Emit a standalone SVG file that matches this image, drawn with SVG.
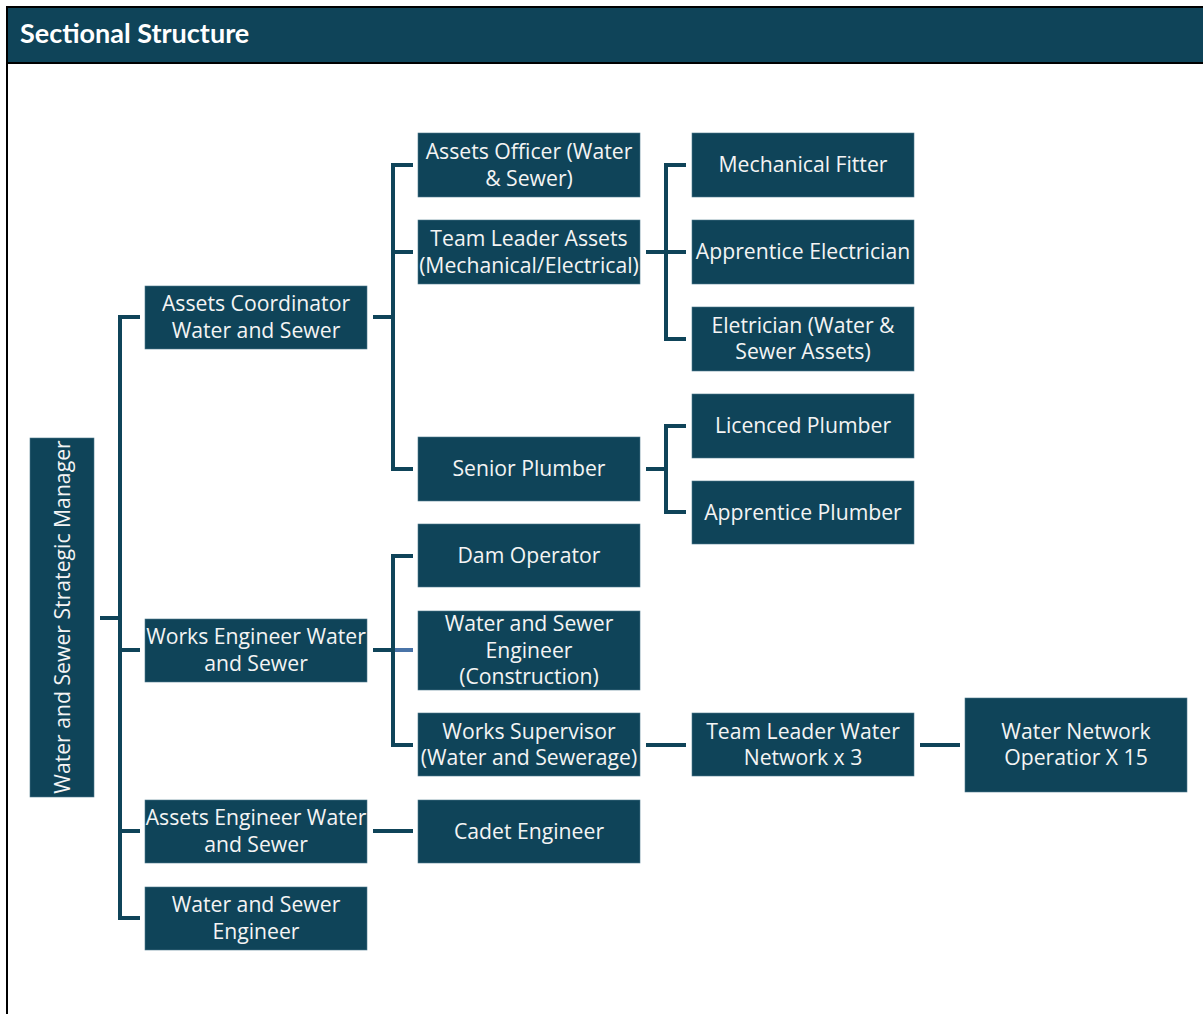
<svg xmlns="http://www.w3.org/2000/svg" width="1203" height="1014" viewBox="0 0 1203 1014">
<style>
.box{fill:#0f4459;stroke:#4d7a8c;stroke-width:0.6}
.t{font-family:"Open Sans","Noto Sans",sans-serif;font-size:21.2px;fill:#f4f4f4;text-anchor:middle}
.c{fill:none;stroke:#0f4459;stroke-width:4;stroke-linejoin:miter;stroke-linecap:butt}
</style>
<rect x="0" y="0" width="1203" height="1014" fill="#ffffff"/>
<g id="frame">
<line x1="7" y1="63" x2="7" y2="1014" stroke="#000" stroke-width="2"/>
<rect x="7" y="7" width="1200" height="56" fill="#0f4459" stroke="#000" stroke-width="2"/>
<text x="20" y="43" font-family="Lato,'Open Sans',sans-serif" font-weight="bold" font-size="27" fill="#ffffff">Sectional Structure</text>
</g>
<g id="connectors">
<path class="c" d="M100 618H120M140 317H120V918H140M120 650H140M120 831H140"/>
<path class="c" d="M373 317H393M413 165H393V469H413M393 252H413"/>
<path class="c" d="M646 252H666M686 165H666V339H686M666 252H686"/>
<path class="c" d="M646 469H666M686 426H666V512H686"/>
<path class="c" d="M373 650H393M413 556H393V745H413"/>
<path d="M395 650H413" fill="none" stroke="#4a74a8" stroke-width="4"/>
<path class="c" d="M646 745H686M920 745H960M373 831H413"/>
</g>
<g id="n-root"><rect class="box" x="30" y="438" width="64" height="359"/><text class="t" transform="translate(70,617) rotate(-90)">Water and Sewer Strategic Manager</text></g>
<g id="n-assets-coord"><rect class="box" x="145" y="286" width="222" height="63"/><text class="t" x="256" y="311">Assets Coordinator</text><text class="t" x="256" y="338">Water and Sewer</text></g>
<g id="n-works-eng"><rect class="box" x="145" y="619" width="222" height="63"/><text class="t" x="256" y="644">Works Engineer Water</text><text class="t" x="256" y="671">and Sewer</text></g>
<g id="n-assets-eng"><rect class="box" x="145" y="800" width="222" height="63"/><text class="t" x="256" y="825">Assets Engineer Water</text><text class="t" x="256" y="852">and Sewer</text></g>
<g id="n-ws-eng"><rect class="box" x="145" y="887" width="222" height="63"/><text class="t" x="256" y="912">Water and Sewer</text><text class="t" x="256" y="939">Engineer</text></g>
<g id="n-assets-officer"><rect class="box" x="418" y="133" width="222" height="64"/><text class="t" x="529" y="159">Assets Officer (Water</text><text class="t" x="529" y="186">&amp; Sewer)</text></g>
<g id="n-tl-assets"><rect class="box" x="418" y="220" width="222" height="64"/><text class="t" x="529" y="246">Team Leader Assets</text><text class="t" x="529" y="273">(Mechanical/Electrical)</text></g>
<g id="n-senior-plumber"><rect class="box" x="418" y="437" width="222" height="64"/><text class="t" x="529" y="476">Senior Plumber</text></g>
<g id="n-dam"><rect class="box" x="418" y="524" width="222" height="63"/><text class="t" x="529" y="563">Dam Operator</text></g>
<g id="n-ws-eng-con"><rect class="box" x="418" y="611" width="222" height="79"/><text class="t" x="529" y="631">Water and Sewer</text><text class="t" x="529" y="658">Engineer</text><text class="t" x="529" y="684">(Construction)</text></g>
<g id="n-works-sup"><rect class="box" x="418" y="713" width="222" height="63"/><text class="t" x="529" y="739">Works Supervisor</text><text class="t" x="529" y="765">(Water and Sewerage)</text></g>
<g id="n-cadet"><rect class="box" x="418" y="800" width="222" height="63"/><text class="t" x="529" y="839">Cadet Engineer</text></g>
<g id="n-mech-fitter"><rect class="box" x="692" y="133" width="222" height="64"/><text class="t" x="803" y="172">Mechanical Fitter</text></g>
<g id="n-app-elec"><rect class="box" x="692" y="220" width="222" height="64"/><text class="t" x="803" y="259">Apprentice Electrician</text></g>
<g id="n-elec"><rect class="box" x="692" y="307" width="222" height="64"/><text class="t" x="803" y="333">Eletrician (Water &amp;</text><text class="t" x="803" y="359">Sewer Assets)</text></g>
<g id="n-lic-plumber"><rect class="box" x="692" y="394" width="222" height="64"/><text class="t" x="803" y="433">Licenced Plumber</text></g>
<g id="n-app-plumber"><rect class="box" x="692" y="481" width="222" height="63"/><text class="t" x="803" y="520">Apprentice Plumber</text></g>
<g id="n-tl-water"><rect class="box" x="692" y="713" width="222" height="63"/><text class="t" x="803" y="739">Team Leader Water</text><text class="t" x="803" y="765">Network x 3</text></g>
<g id="n-wn-op"><rect class="box" x="965" y="698" width="222" height="94"/><text class="t" x="1076" y="739">Water Network</text><text class="t" x="1076" y="765">Operatior X 15</text></g>
</svg>
